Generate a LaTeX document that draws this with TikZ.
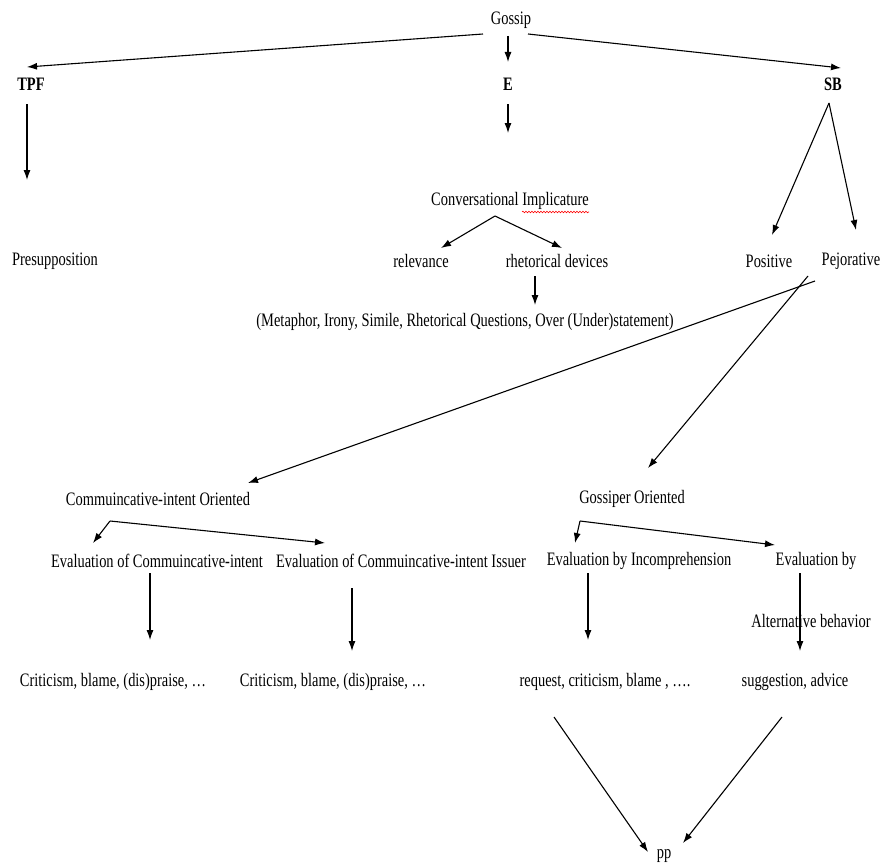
\documentclass[tikz,border=0pt]{standalone}
\usepackage{fontspec}
\setmainfont{Liberation Serif}[FakeStretch=0.76]
\usetikzlibrary{arrows.meta,decorations.pathmorphing}

\begin{document}
\begin{tikzpicture}[x=1pt,y=-1pt,
    every node/.style={inner sep=0pt,font=\fontsize{19}{21}\selectfont},
    head/.style={font=\fontsize{19}{21}\selectfont\bfseries},
    arr/.style={-{Latex[length=10pt,width=7pt]},line width=1.1pt}]
%Start with the bounding box, then put each label at its place
% and connect them with arrows, going from the top down.
\useasboundingbox (0,0) rectangle (883,867);
\node (gossip) at (511,20) {Gossip};
\node[head] (tpf) at (31,84) {TPF};
\node[head] (e) at (508,84) {E};
\node[head] (sb) at (833,84) {SB};
\node (presup) at (55,261) {Presupposition};
\node (ci) at (510,201) {Conversational Implicature};
\node (rel) at (421,261) {relevance};
\node (rhet) at (557,261) {rhetorical devices};
\node (pos) at (769,261) {Positive};
\node (pej) at (851,261) {Pejorative};
\node (meta) at (465,322) {(Metaphor, Irony, Simile, Rhetorical Questions, Over (Under)statement)};
\node (commor) at (158,499) {Commuincative-intent Oriented};
\node (gossor) at (632,499) {Gossiper Oriented};
\node (evci) at (157,561) {Evaluation of Commuincative-intent};
\node (evciss) at (401,561) {Evaluation of Commuincative-intent Issuer};
\node (evinc) at (639,561) {Evaluation by Incomprehension};
\node (evby) at (816,561) {Evaluation by};
\node (alt) at (811,621) {Alternative behavior};
\node (crit1) at (113,682) {Criticism, blame, (dis)praise, \dots};
\node (crit2) at (333,682) {Criticism, blame, (dis)praise, \dots};
\node (req) at (605,682) {request, criticism, blame , \dots.};
\node (sugg) at (795,682) {suggestion, advice};
\node (pp) at (664,856) {pp};
% the red squiggle under "Implicature"
\draw[red,line width=0.6pt,decorate,decoration={snake,amplitude=0.8pt,segment length=3pt}]
    ([shift={(12,11)}]ci.center) -- ([shift={(79,11)}]ci.center);
% first level
\draw[arr] ([shift={(-28,14)}]gossip.center) -- ([shift={(-4,-17)}]tpf.center);
\draw[arr] ([shift={(-3,16)}]gossip.center) -- ([shift={(0,-22)}]e.center);
\draw[arr] ([shift={(17,14)}]gossip.center) -- ([shift={(8,-16)}]sb.center);
% second level
\draw[arr] ([shift={(-4,20)}]tpf.center) -- ([shift={(-28,-81)}]presup.center);
\draw[arr] ([shift={(0,20)}]e.center) -- ([shift={(-2,-68)}]ci.center);
\draw[arr] ([shift={(-4,19)}]sb.center) -- ([shift={(3,-26)}]pos.center);
\draw[arr] ([shift={(-4,19)}]sb.center) -- ([shift={(5,-31)}]pej.center);
\draw[arr] ([shift={(-15,15)}]ci.center) -- ([shift={(20,-13)}]rel.center);
\draw[arr] ([shift={(-15,15)}]ci.center) -- ([shift={(5,-13)}]rhet.center);
\draw[arr] ([shift={(-22,15)}]rhet.center) -- ([shift={(70,-17)}]meta.center);
% pejorative side
\draw[arr] ([shift={(-36,20)}]pej.center) -- ([shift={(90,-16)}]commor.center);
\draw[arr] ([shift={(-43,15)}]pej.center) -- ([shift={(16,-31)}]gossor.center);
\draw[arr] ([shift={(-48,22)}]commor.center) -- ([shift={(-64,-18)}]evci.center);
\draw[arr] ([shift={(-48,22)}]commor.center) -- ([shift={(-76,-18)}]evciss.center);
\draw[arr] ([shift={(-52,22)}]gossor.center) -- ([shift={(-64,-18)}]evinc.center);
\draw[arr] ([shift={(-52,22)}]gossor.center) -- ([shift={(-41,-16)}]evby.center);
\draw[arr] ([shift={(-7,12)}]evci.center) -- ([shift={(37,-42)}]crit1.center);
\draw[arr] ([shift={(-49,27)}]evciss.center) -- ([shift={(19,-31)}]crit2.center);
\draw[arr] ([shift={(-51,12)}]evinc.center) -- ([shift={(-17,-42)}]req.center);
\draw[arr] ([shift={(-16,12)}]evby.center) -- ([shift={(5,-31)}]sugg.center);
\draw[arr] ([shift={(-51,35)}]req.center) -- ([shift={(-16,-4)}]pp.center);
\draw[arr] ([shift={(-13,35)}]sugg.center) -- ([shift={(19,-13)}]pp.center);
\end{tikzpicture}
\end{document}
